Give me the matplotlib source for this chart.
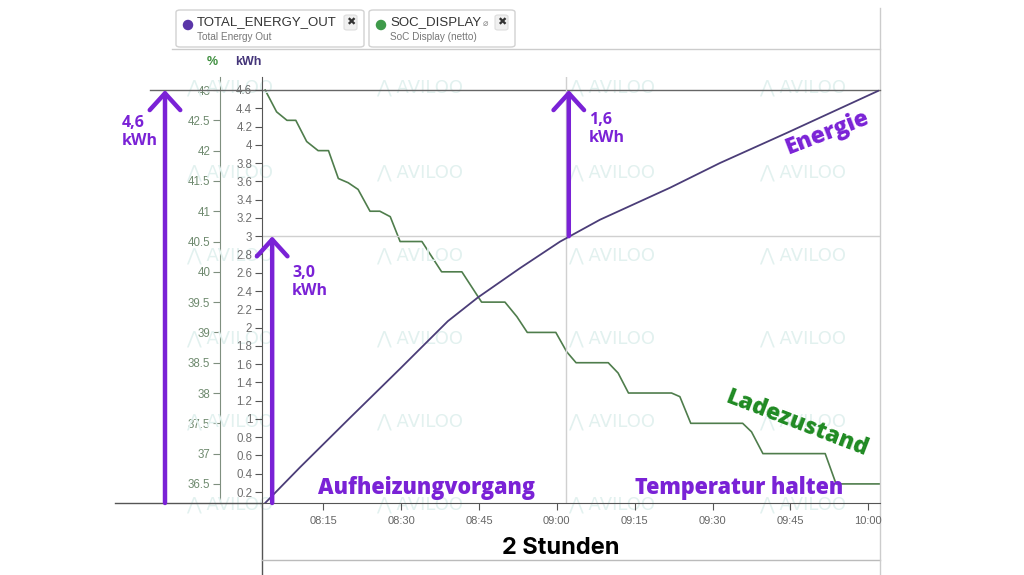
import matplotlib
matplotlib.use('Agg')
import matplotlib.pyplot as plt
import numpy as np
from matplotlib.patches import FancyBboxPatch, Ellipse
from matplotlib.lines import Line2D
from matplotlib.ticker import FuncFormatter, FixedLocator

# ---------------- data ----------------
# minutes after 08:00
energy_min = [3.8, 10.5, 20.1, 29.8, 39.0, 44.8, 52.9, 60.6, 68.3, 81.8, 91.4, 104.3, 121.9]
energy_kwh = [0.08, 0.47, 1.01, 1.55, 2.07, 2.33, 2.65, 2.94, 3.18, 3.53, 3.80, 4.13, 4.59]

soc_min = [3.8, 6.0, 8.0, 9.7, 11.8, 14.0, 16.0, 17.9, 19.8, 21.7, 24.0, 25.9, 27.9,
           29.8, 34.0, 37.8, 41.7, 45.5, 50.0, 52.3, 54.3, 59.8, 61.9, 63.7, 69.9,
           71.8, 73.8, 82.1, 83.7, 85.8, 95.8, 97.5, 99.7, 111.7, 113.8, 122.3]
soc_pct = [43.0, 42.64, 42.5, 42.5, 42.15, 42.0, 42.0, 41.54, 41.47, 41.36, 41.0, 41.0, 40.91,
           40.5, 40.5, 40.0, 40.0, 39.5, 39.5, 39.26, 39.0, 39.0, 38.68, 38.5, 38.5,
           38.33, 38.0, 38.0, 37.94, 37.5, 37.5, 37.36, 37.0, 37.0, 36.5, 36.5]

xtick_min = [15, 30, 45, 60, 75, 90, 105, 120]
xtick_labels = ['08:15', '08:30', '08:45', '09:00', '09:15', '09:30', '09:45', '10:00']
kwh_ticks = [0.2, 0.4, 0.6, 0.8, 1.0, 1.2, 1.4, 1.6, 1.8, 2.0, 2.2, 2.4, 2.6, 2.8, 3.0,
             3.2, 3.4, 3.6, 3.8, 4.0, 4.2, 4.4, 4.6]
pct_ticks = [36.5, 37.0, 37.5, 38.0, 38.5, 39.0, 39.5, 40.0, 40.5, 41.0, 41.5, 42.0, 42.5, 43.0]

total_kwh = 4.6
heat_kwh = 3.0
hold_kwh = 1.6
t_heat = 62.3

# ---------------- style ----------------
PURPLE = '#7a22d6'
GREEN_TXT = '#1f8a22'
E_COL = '#4b3d78'
S_COL = '#4f7d4c'
W, H = 1024, 575
plt.rcParams['font.family'] = ['Liberation Sans', 'DejaVu Sans']

fig = plt.figure(figsize=(W / 100, H / 100), dpi=100)


def fx(x):
    return x / W


def fy(y):
    return 1 - y / H


ax = fig.add_axes([fx(262), fy(503), 618 / W, 426 / H])
ax2 = ax.twinx()
ax.set_zorder(2)
ax.patch.set_visible(False)

# watermark
for cx in [230, 420, 612, 803]:
    for cy in [88, 173, 256, 339, 422, 505]:
        fig.text(fx(cx), fy(cy), '⋀ AVILOO', fontsize=13, color='#e2f1ef',
                 ha='center', va='center', zorder=0, family='DejaVu Sans')

# lines
ax.plot(energy_min, energy_kwh, color=E_COL, lw=1.3, zorder=3)
ax2.plot(soc_min, soc_pct, color=S_COL, lw=1.2, zorder=3)

ax.set_xlim(3.19, 122.26)
ax.set_ylim(0.08, 4.742)
ax2.set_ylim(36.185, 43.215)

fmt = FuncFormatter(lambda v, p: f'{v:g}')
ax.yaxis.set_major_locator(FixedLocator(kwh_ticks))
ax.yaxis.set_major_formatter(fmt)
ax2.yaxis.set_major_locator(FixedLocator(pct_ticks))
ax2.yaxis.set_major_formatter(fmt)
ax2.yaxis.tick_left()
ax2.yaxis.set_label_position('left')
ax.set_xticks(xtick_min)
ax.set_xticklabels(xtick_labels)

for a in (ax, ax2):
    a.spines['top'].set_visible(False)
    a.spines['right'].set_visible(False)
ax2.spines['bottom'].set_visible(False)
ax2.spines['left'].set_position(('axes', -42 / 618))
ax2.spines['left'].set_color('#7f8f7f')
ax.spines['left'].set_color('#555555')
ax.spines['bottom'].set_color('#555555')

ax.tick_params(axis='y', labelsize=8.3, labelcolor='#6f6f6f', length=5, color='#555555', pad=2)
ax2.tick_params(axis='y', labelsize=8.3, labelcolor='#6f8a6f', length=5, color='#7f8f7f', pad=2)
ax.tick_params(axis='x', labelsize=8, labelcolor='#666666', length=5, color='#555555', pad=4)

fig.text(fx(212), fy(62), '%', fontsize=9, color='#3f8f3f', fontweight='bold', ha='center', va='center')
fig.text(fx(248), fy(62), 'kWh', fontsize=9, color='#45367a', fontweight='bold', ha='center', va='center')

# guide lines
yt = ax.get_yaxis_transform()
xt = ax.get_xaxis_transform()
ax.plot([-0.181, 1.0], [total_kwh, total_kwh], transform=yt, color='#666666', lw=1.0, clip_on=False, zorder=1)
ax.plot([0, 1.0], [heat_kwh, heat_kwh], transform=yt, color='#d0d0d0', lw=1.0, zorder=1)
ax.plot([t_heat - 0.5, t_heat - 0.5], [0, 1], transform=xt, color='#d0d0d0', lw=1.0, zorder=1)

fig.add_artist(Line2D([fx(115), fx(262)], [fy(503), fy(503)], color='#555555', lw=1.0))
fig.add_artist(Line2D([fx(262), fx(262)], [fy(503), fy(575)], color='#555555', lw=1.0))
fig.add_artist(Line2D([fx(262), fx(880)], [fy(560), fy(560)], color='#bbbbbb', lw=1.0))
fig.add_artist(Line2D([fx(880), fx(880)], [fy(8), fy(575)], color='#cccccc', lw=1.0))
fig.add_artist(Line2D([fx(172), fx(880)], [fy(49), fy(49)], color='#cccccc', lw=1.0))

# arrows
aprops = dict(arrowstyle='->,head_length=0.55,head_width=0.5', color=PURPLE, lw=3.2,
              shrinkA=0, shrinkB=0, mutation_scale=22)
ax.annotate('', xy=(-97 / 618, total_kwh), xytext=(-97 / 618, 0.08),
            xycoords=('axes fraction', 'data'), textcoords=('axes fraction', 'data'),
            arrowprops=aprops, annotation_clip=False)
ax.annotate('', xy=(5.15, heat_kwh), xytext=(5.15, 0.08), arrowprops=aprops, annotation_clip=False)
ax.annotate('', xy=(t_heat, total_kwh), xytext=(t_heat, heat_kwh), arrowprops=aprops, annotation_clip=False)

tk = dict(color=PURPLE, fontsize=11.5, fontweight='bold', family='Open Sans', linespacing=1.15, va='center', ha='left')
fig.text(fx(122), fy(132), '4,6\nkWh', **tk)
fig.text(fx(292), fy(282), '3,0\nkWh', **tk)
fig.text(fx(589), fy(129), '1,6\nkWh', **tk)

big = dict(fontweight='heavy', family='Open Sans', ha='center', va='center')
fig.text(fx(827), fy(133), 'Energie', color=PURPLE, rotation=21, fontsize=16.5, **big)
fig.text(fx(797), fy(423), 'Ladezustand', color=GREEN_TXT, rotation=-21, fontsize=16.5, **big)
fig.text(fx(427), fy(488), 'Aufheizungvorgang', color=PURPLE, fontsize=15.5, **big)
fig.text(fx(739), fy(488), 'Temperatur halten', color=PURPLE, fontsize=15.5, **big)
fig.text(fx(561), fy(548), '2 Stunden', color='black', fontsize=17, fontweight='bold',
         family='Inter', ha='center', va='center')

# legend chips
def chip(x0, x1, col, title, sub, extra=None):
    fig.add_artist(FancyBboxPatch((fx(x0), fy(47)), fx(x1 - x0), (37) / H,
                                  boxstyle='round,pad=0,rounding_size=0.004',
                                  transform=fig.transFigure, fc='white', ec='#d2d2d2', lw=1.0))
    fig.add_artist(Ellipse((fx(x0 + 12), fy(25)), 10.5 / W, 10.5 / H, transform=fig.transFigure,
                           fc=col, ec='none'))
    fig.text(fx(x0 + 21), fy(22), title, fontsize=9.5, color='#333333', ha='left', va='center')
    fig.text(fx(x0 + 21), fy(37), sub, fontsize=7.2, color='#777777', ha='left', va='center')
    fig.add_artist(FancyBboxPatch((fx(x1 - 20), fy(30)), 13 / W, 15 / H,
                                  boxstyle='round,pad=0,rounding_size=0.003',
                                  transform=fig.transFigure, fc='#f0f0f0', ec='#dddddd', lw=0.8))
    fig.text(fx(x1 - 13.5), fy(22.5), '✖', fontsize=8, color='#333333', ha='center', va='center',
             family='DejaVu Sans')
    if extra:
        fig.text(fx(x1 - 30), fy(23), extra, fontsize=6.5, color='#888888', ha='center', va='center',
                 family='DejaVu Sans')

chip(176, 364, '#5a35a8', 'TOTAL_ENERGY_OUT', 'Total Energy Out')
chip(369, 515, '#3e9a4a', 'SOC_DISPLAY', 'SoC Display (netto)', extra='⌀')

fig.savefig('out.png', dpi=100)
